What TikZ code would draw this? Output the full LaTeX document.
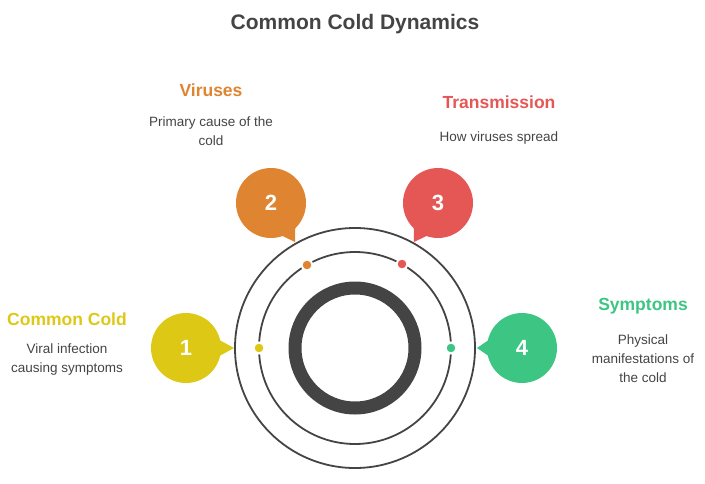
\documentclass[tikz,border=0pt]{standalone}
\usepackage{fontspec}
\setmainfont{Liberation Sans}
\usetikzlibrary{calc}
\definecolor{cy}{HTML}{DEC816}
\definecolor{co}{HTML}{DF8431}
\definecolor{cr}{HTML}{E55754}
\definecolor{cg}{HTML}{3CC583}
\definecolor{dk}{HTML}{444444}
\begin{document}
\begin{tikzpicture}[x=1pt,y=-1pt,
 ttl/.style={font=\bfseries\fontsize{17.5}{20}\selectfont},
 desc/.style={font=\fontsize{13.5}{19}\selectfont,text=dk,align=center},
 num/.style={font=\bfseries\fontsize{22}{24}\selectfont,text=white},
 dotst/.style={circle,inner sep=0pt,minimum size=11pt,draw=white,line width=2pt}]
\useasboundingbox (0,0) rectangle (705,483);
\node[font=\bfseries\fontsize{21}{24}\selectfont,text=dk] (title) at (355,24) {Common Cold Dynamics};
\coordinate (c) at (355,348);
\draw[dk,line width=1.8pt] (c) circle (120);
\draw[dk,line width=1.8pt] (c) circle (96);
\draw[dk,line width=13pt] (c) circle (60);
\node[dotst,fill=cy] (d1) at (259,348) {};
\node[dotst,fill=co] (d2) at (307,265) {};
\node[dotst,fill=cr] (d3) at (402,264) {};
\node[dotst,fill=cg] (d4) at (451,348) {};
\foreach \n/\x/\y/\tx/\ty/\col in {1/186/348/234/348/cy,2/271/203/295/242/co,3/438/203/414/242/cr,4/522/348/477/348/cg}{
 \coordinate (b\n) at (\x,\y);
 \coordinate (t\n) at (\tx,\ty);
 \fill[\col] (b\n) circle (35);
 \fill[\col] ($(b\n)!34pt!14:(t\n)$) -- (t\n) -- ($(b\n)!34pt!-14:(t\n)$) -- cycle;
 \node[num] (n\n) at (b\n) {\n};
}
\node[ttl,text=cy] (h1) at (67,319) {Common Cold};
\node[desc] (s1) at (67,360) {Viral infection\\causing symptoms};
\node[ttl,text=co] (h2) at (211,90) {Viruses};
\node[desc] (s2) at (211,131) {Primary cause of the\\cold};
\node[ttl,text=cr] (h3) at (499,102) {Transmission};
\node[desc] (s3) at (499,138) {How viruses spread};
\node[ttl,text=cg] (h4) at (643,306) {Symptoms};
\node[desc] (s4) at (643,359) {Physical\\manifestations of\\the cold};
\end{tikzpicture}
\end{document}
